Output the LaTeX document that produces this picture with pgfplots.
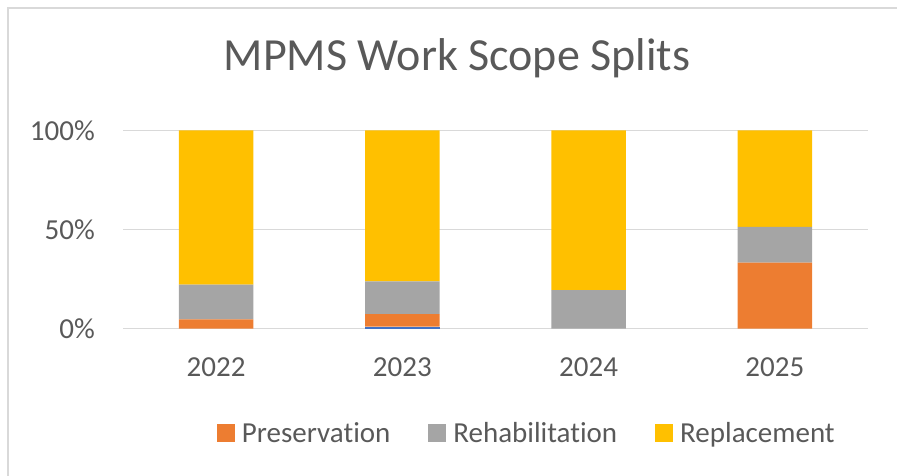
\documentclass[border=0pt]{standalone}
\usepackage{pgfplots}
\pgfplotsset{compat=1.18}
\usepackage{fontspec}
\setmainfont[Ligatures={NoCommon}]{Carlito}
\definecolor{cPres}{HTML}{ED7D31}
\definecolor{cRehab}{HTML}{A5A5A5}
\definecolor{cRepl}{HTML}{FFC000}
\definecolor{cBlue}{HTML}{4472C4}
\definecolor{cGrid}{HTML}{D9D9D9}
\definecolor{cText}{HTML}{595959}
\begin{document}
\begin{tikzpicture}
\useasboundingbox (0,0) rectangle (897pt,476pt);
\draw[cGrid, line width=1.5pt] (8pt,0pt) -- (8pt,468pt) -- (897pt,468pt);
\node[anchor=base, text=cText, font=\fontsize{46}{52}\selectfont, inner sep=0pt] at (457pt,405pt) {MPMS Work Scope Splits};
\begin{axis}[
  at={(123pt,147.3pt)}, anchor=south west,
  scale only axis, width=745pt, height=198.4pt,
  xmin=-0.5, xmax=3.5, ymin=0, ymax=100,
  ybar stacked, bar width=74.6pt,
  xtick={0,1,2,3}, xticklabels={2022,2023,2024,2025},
  ytick={0,50,100}, yticklabels={0\%,50\%,100\%},
  major tick length=0pt,
  axis y line*=left, axis x line*=bottom,
  y axis line style={draw=none},
  x axis line style={cGrid, line width=1.5pt, -},
  ymajorgrids, grid style={cGrid, line width=1.5pt},
  tick label style={text=cText, font=\fontsize{29}{34}\selectfont},
  xticklabel style={anchor=base, yshift=-47.5pt, inner sep=0pt},
  yticklabel style={anchor=east, xshift=-28pt, inner sep=0pt},
  legend columns=3,
  legend style={at={(0.126,-0.526)}, anchor=west, draw=none, fill=none, inner sep=0pt, outer sep=0pt,
    font=\fontsize{29}{34}\selectfont, text=cText,
    nodes={inner sep=0pt},
    /tikz/every odd column/.append style={column sep=7pt},
    /tikz/every even column/.append style={column sep=38pt}},
  legend image code/.code={\fill[#1] (0pt,-9pt) rectangle (18pt,9pt);},
]
\addplot[fill=cBlue, draw=none, forget plot] coordinates {(0,0) (1,1.0) (2,0) (3,0)};
\addplot[fill=cPres, draw=none] coordinates {(0,4.7) (1,6.4) (2,0) (3,33.3)};
\addplot[fill=cRehab, draw=none] coordinates {(0,17.5) (1,16.5) (2,19.5) (3,18.0)};
\addplot[fill=cRepl, draw=none] coordinates {(0,77.8) (1,76.1) (2,80.5) (3,48.7)};
\legend{Preservation, Rehabilitation, Replacement}
\end{axis}
\end{tikzpicture}
\end{document}
